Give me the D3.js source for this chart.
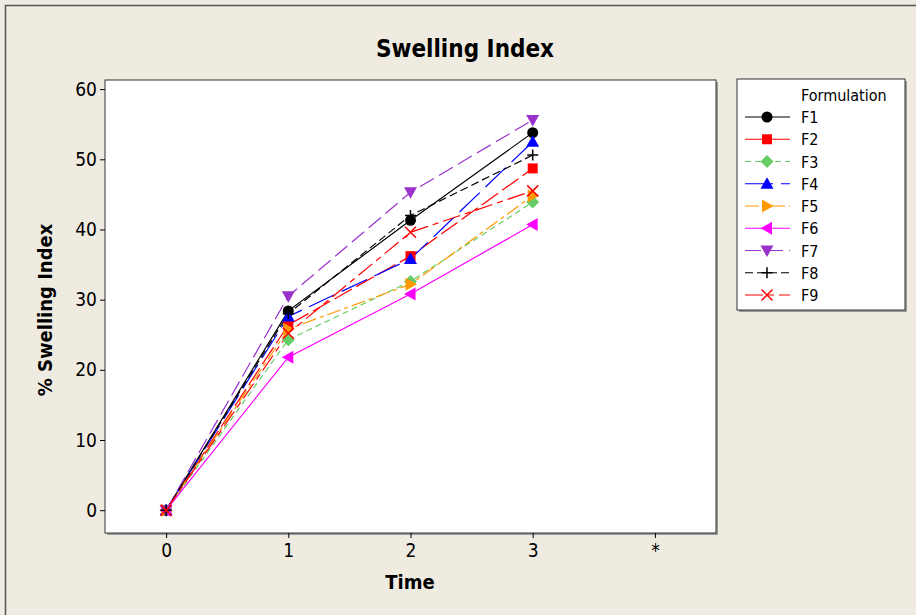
<!DOCTYPE html>
<html>
<head>
<meta charset="utf-8">
<script src="https://cdn.jsdelivr.net/npm/d3@7"></script>
<style>
  html, body { margin: 0; padding: 0; background: #EFEBE1; }
  svg { display: block; }
  text { font-family: "DejaVu Sans Condensed", "DejaVu Sans", sans-serif; font-stretch: condensed; }
</style>
</head>
<body>
<svg id="chart" width="916" height="615"></svg>
<script>
// Time points (category axis; "*" marks the missing-value slot)
const timeLabels = ["0", "1", "2", "3", "*"];
const timeIndex = [0, 1, 2, 3];
const formulations = ["F1", "F2", "F3", "F4", "F5", "F6", "F7", "F8", "F9"];

// % swelling index per formulation at time 0..3
const F1 = [0, 28.4, 41.3, 53.8];
const F2 = [0, 26.4, 36.2, 48.7];
const F3 = [0, 24.3, 32.6, 43.9];
const F4 = [0, 27.6, 35.8, 52.5];
const F5 = [0, 25.8, 32.2, 44.8];
const F6 = [0, 21.8, 30.8, 40.7];
const F7 = [0, 30.5, 45.3, 55.6];
const F8 = [0, 28.0, 42.0, 50.6];
const F9 = [0, 25.2, 39.6, 45.5];
const seriesValues = [F1, F2, F3, F4, F5, F6, F7, F8, F9];

const yTicks = [0, 10, 20, 30, 40, 50, 60];

const colors = ["#000000", "#FF0000", "#66CC66", "#0000FF", "#FF9900", "#FF00FF", "#9933CC", "#000000", "#FF0000"];
const dashes = [null, "20,5", "6,4", "28,8", "14,4,4,4", null, "16,6", "8,4", "18,5,6,5"];
const symbols = ["circle", "square", "diamond", "triUp", "triRight", "triLeft", "triDown", "plus", "cross"];

const svg = d3.select("#chart");

// outer frame
svg.append("path").attr("d", "M5.5,615 V5.5 H916")
  .attr("fill", "none").attr("stroke", "#555").attr("stroke-width", 1.5);

const plot = { left: 105, right: 716, top: 80, bottom: 533 };

const x = d3.scaleLinear().domain([-0.5, 4.5]).range([plot.left, plot.right]);
const y = d3.scaleLinear().domain([-3.25, 61.3]).range([plot.bottom, plot.top]);

// plot panel with a slight drop shadow
svg.append("rect").attr("x", plot.left + 2).attr("y", plot.top + 2)
  .attr("width", plot.right - plot.left).attr("height", plot.bottom - plot.top)
  .attr("fill", "#9a9a9a");
svg.append("rect").attr("x", plot.left).attr("y", plot.top)
  .attr("width", plot.right - plot.left).attr("height", plot.bottom - plot.top)
  .attr("fill", "#fff").attr("stroke", "#333").attr("stroke-width", 1);

// axes
const yAxis = d3.axisLeft(y).tickValues(yTicks).tickSize(5).tickPadding(3);
const gy = svg.append("g").attr("transform", `translate(${plot.left},0)`).call(yAxis);
gy.select(".domain").remove();
gy.selectAll("text").attr("font-size", 19).attr("fill", "#000");
gy.selectAll("line").attr("stroke", "#000");

const xAxis = d3.axisBottom(x).tickValues(d3.range(timeLabels.length))
  .tickFormat(i => timeLabels[i]).tickSize(5).tickPadding(6);
const gx = svg.append("g").attr("transform", `translate(0,${plot.bottom})`).call(xAxis);
gx.select(".domain").remove();
gx.selectAll("text").attr("font-size", 19).attr("fill", "#000");
gx.selectAll("line").attr("stroke", "#000");

// titles
svg.append("text").attr("x", 465).attr("y", 57).attr("text-anchor", "middle")
  .attr("font-size", 24).attr("font-weight", "bold").text("Swelling Index");
svg.append("text").attr("x", 410).attr("y", 589).attr("text-anchor", "middle")
  .attr("font-size", 20).attr("font-weight", "bold").text("Time");
svg.append("text").attr("transform", "translate(52,310) rotate(-90)").attr("text-anchor", "middle")
  .attr("font-size", 20).attr("font-weight", "bold").text("% Swelling Index");

// marker shapes
function drawMarker(g, type, color) {
  const s = 5.5;
  switch (type) {
    case "circle":
      g.append("circle").attr("r", 5.5).attr("fill", color); break;
    case "square":
      g.append("rect").attr("x", -5).attr("y", -5).attr("width", 10).attr("height", 10).attr("fill", color); break;
    case "diamond":
      g.append("path").attr("d", "M0,-6.5L6.5,0L0,6.5L-6.5,0Z").attr("fill", color); break;
    case "triUp":
      g.append("path").attr("d", "M0,-6.5L6.5,5L-6.5,5Z").attr("fill", color); break;
    case "triDown":
      g.append("path").attr("d", "M0,6.5L6.5,-5L-6.5,-5Z").attr("fill", color); break;
    case "triRight":
      g.append("path").attr("d", "M6.5,0L-5,-6.5L-5,6.5Z").attr("fill", color); break;
    case "triLeft":
      g.append("path").attr("d", "M-6.5,0L5,-6.5L5,6.5Z").attr("fill", color); break;
    case "plus":
      g.append("path").attr("d", `M-${s},0H${s}M0,-${s}V${s}`).attr("stroke", color).attr("stroke-width", 1.5); break;
    case "cross":
      g.append("path").attr("d", `M-${s},-${s}L${s},${s}M${s},-${s}L-${s},${s}`).attr("stroke", color).attr("stroke-width", 1.5); break;
  }
}

const line = d3.line().x((d, i) => x(timeIndex[i])).y(d => y(d));

// series lines
seriesValues.forEach((vals, k) => {
  svg.append("path").datum(vals).attr("d", line)
    .attr("fill", "none").attr("stroke", colors[k]).attr("stroke-width", 1.2)
    .attr("stroke-dasharray", dashes[k]);
});
// series markers
seriesValues.forEach((vals, k) => {
  vals.forEach((v, i) => {
    const g = svg.append("g").attr("transform", `translate(${x(timeIndex[i])},${y(v)})`);
    drawMarker(g, symbols[k], colors[k]);
  });
});

// legend
const lg = { x: 737, y: 79, w: 168, h: 231 };
svg.append("rect").attr("x", lg.x + 2).attr("y", lg.y + 2).attr("width", lg.w).attr("height", lg.h).attr("fill", "#9a9a9a");
svg.append("rect").attr("x", lg.x).attr("y", lg.y).attr("width", lg.w).attr("height", lg.h)
  .attr("fill", "#fff").attr("stroke", "#333").attr("stroke-width", 1);
svg.append("text").attr("x", 801).attr("y", 101).attr("font-size", 16).text("Formulation");
formulations.forEach((name, k) => {
  const cy = 117 + k * 22.25;
  svg.append("line").attr("x1", 745).attr("x2", 790).attr("y1", cy).attr("y2", cy)
    .attr("stroke", colors[k]).attr("stroke-width", 1.2).attr("stroke-dasharray", dashes[k]);
  const g = svg.append("g").attr("transform", `translate(767,${cy})`);
  drawMarker(g, symbols[k], colors[k]);
  svg.append("text").attr("x", 801).attr("y", cy + 6).attr("font-size", 16).text(name);
});
</script>
</body>
</html>
